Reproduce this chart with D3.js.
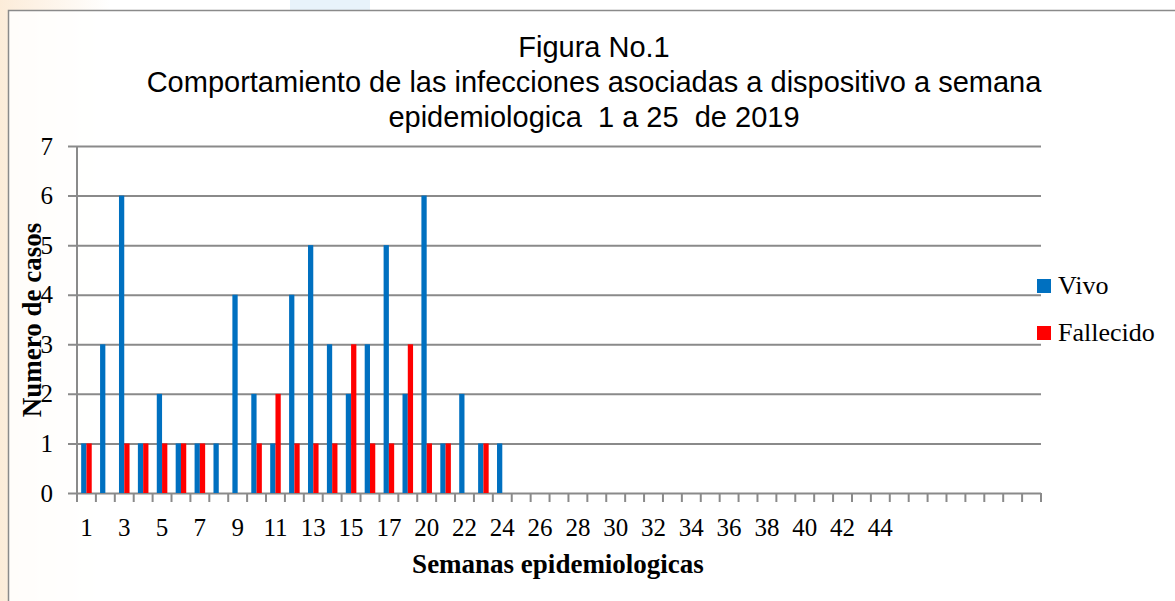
<!DOCTYPE html>
<html>
<head>
<meta charset="utf-8">
<script src="https://cdn.jsdelivr.net/npm/d3@7"></script>
<style>
  body { margin: 0; background: #fff; }
</style>
</head>
<body>
<div id="chart"></div>
<script>
// semanas epidemiologicas (categorias del eje x), las ultimas sin etiqueta
const semanas = ["1", "2", "3", "4", "5", "6", "7", "8", "9", "10", "11", "12", "13", "14", "15", "16", "17", "18",
  "20", "21", "22", "23", "24", "25", "26", "27", "28", "29", "30", "31", "32", "33", "34", "35", "36", "37", "38",
  "39", "40", "41", "42", "43", "44", "", "", "", "", "", "", "", ""];
const vivo = [1, 3, 6, 1, 2, 1, 1, 1, 4, 2, 1, 4, 5, 3, 2, 3, 5, 2, 6, 1, 2, 1, 1];
const fallecido = [1, 0, 1, 1, 1, 1, 1, 0, 0, 1, 2, 1, 1, 1, 3, 1, 1, 3, 1, 1, 0, 1, 0];
const series = ["Vivo", "Fallecido"];
const colores = ["#0070C0", "#FF0000"];
const yTicks = [0, 1, 2, 3, 4, 5, 6, 7];
const titulo = [
  "Figura No.1",
  "Comportamiento de las infecciones asociadas a dispositivo a semana",
  "epidemiologica  1 a 25  de 2019"
];

const W = 1175, H = 601;
const margin = { top: 146, right: 134, bottom: 108, left: 77 };
const width = W - margin.left - margin.right;
const height = H - margin.top - margin.bottom;
const gris = "#8a8a8a";
const serif = "'Liberation Serif', 'DejaVu Serif', serif";

const root = d3.select("#chart").append("svg")
  .attr("width", W)
  .attr("height", H);

// fondo con marca de agua tenue
const grad = root.append("defs").append("linearGradient").attr("id", "fondo");
grad.append("stop").attr("offset", "0%").attr("stop-color", "#fcecd9");
grad.append("stop").attr("offset", "100%").attr("stop-color", "#ffffff");
root.append("rect").attr("width", 110).attr("height", H).attr("fill", "url(#fondo)");
root.append("rect").attr("x", 290).attr("width", 80).attr("height", 11).attr("fill", "#e8f3fb");

// marco del grafico
root.append("rect")
  .attr("x", 8.5).attr("y", 10.5)
  .attr("width", W + 10).attr("height", H + 10)
  .attr("fill", "rgba(255,255,255,0.85)")
  .attr("stroke", gris).attr("stroke-width", 1.5);

// titulo
root.append("text")
  .attr("x", 594).attr("y", 57)
  .attr("text-anchor", "middle")
  .style("font-family", "'Liberation Sans', Arial, sans-serif")
  .style("font-size", "29px")
  .style("white-space", "pre")
  .selectAll("tspan")
  .data(titulo)
  .join("tspan")
  .attr("x", 594)
  .attr("dy", (d, i) => (i === 0 ? 0 : 35))
  .text((d) => d);

const svg = root.append("g")
  .attr("transform", `translate(${margin.left}, ${margin.top})`);

// escalas
const x0 = d3.scaleBand()
  .domain(d3.range(semanas.length))
  .range([0, width]);

const x1 = d3.scaleBand()
  .domain(series)
  .range([0, x0.bandwidth()])
  .paddingOuter(0.79);

const yScale = d3.scaleLinear()
  .domain([0, 7])
  .range([height, 0]);

// Y axis + lineas de cuadricula
const yAxis = svg.append("g")
  .call(d3.axisLeft(yScale).tickValues(yTicks).tickFormat(d3.format("d")).tickSize(9).tickPadding(15));
yAxis.select(".domain").remove();
yAxis.selectAll(".tick line")
  .attr("x2", width)
  .attr("x1", -9)
  .attr("stroke", gris)
  .attr("stroke-width", 2);
yAxis.selectAll("text")
  .style("font-family", serif)
  .style("font-size", "25px")
  .attr("fill", "#000");

svg.append("line")
  .attr("x1", 0).attr("x2", 0)
  .attr("y1", 0).attr("y2", height + 9)
  .attr("stroke", gris).attr("stroke-width", 2);

// X axis
const xAxis = svg.append("g")
  .attr("transform", `translate(0, ${height})`)
  .call(d3.axisBottom(x0).tickSize(0).tickPadding(25)
    .tickFormat((d, i) => (i % 2 === 0 ? semanas[i] : "")));
xAxis.select(".domain").remove();
xAxis.selectAll("text")
  .style("font-family", serif)
  .style("font-size", "25px")
  .attr("fill", "#000");

// marcas entre categorias
svg.append("g")
  .selectAll("line")
  .data(d3.range(semanas.length + 1))
  .join("line")
  .attr("x1", (d) => (d < semanas.length ? x0(d) : width))
  .attr("x2", (d) => (d < semanas.length ? x0(d) : width))
  .attr("y1", height)
  .attr("y2", height + 9)
  .attr("stroke", gris)
  .attr("stroke-width", 2);

// Bars
const filas = vivo.map((v, i) => ({ i: i, Vivo: v, Fallecido: fallecido[i] }));

svg.append("g")
  .selectAll("g")
  .data(filas)
  .join("g")
  .attr("transform", (d) => `translate(${x0(d.i)}, 0)`)
  .selectAll("rect")
  .data((d) => series.map((s, k) => ({ serie: s, valor: d[s], color: colores[k] })))
  .join("rect")
  .attr("x", (d) => x1(d.serie))
  .attr("width", x1.bandwidth())
  .attr("y", (d) => yScale(d.valor))
  .attr("height", (d) => yScale(0) - yScale(d.valor))
  .attr("fill", (d) => d.color);

// titulos de ejes
root.append("text")
  .attr("transform", "translate(41, 320) rotate(-90)")
  .attr("text-anchor", "middle")
  .style("font-family", serif)
  .style("font-size", "27px")
  .style("font-weight", "bold")
  .text("Numero de casos");

root.append("text")
  .attr("x", 558).attr("y", 573)
  .attr("text-anchor", "middle")
  .style("font-family", serif)
  .style("font-size", "27px")
  .style("font-weight", "bold")
  .text("Semanas epidemiologicas");

// leyenda
const legend = root.append("g")
  .selectAll("g")
  .data(series)
  .join("g")
  .attr("transform", (d, i) => `translate(1037, ${279 + i * 47})`);

legend.append("rect")
  .attr("width", 14).attr("height", 14)
  .attr("fill", (d, i) => colores[i]);

legend.append("text")
  .attr("x", 21).attr("y", 15)
  .style("font-family", serif)
  .style("font-size", "26px")
  .text((d) => d);
</script>
</body>
</html>
